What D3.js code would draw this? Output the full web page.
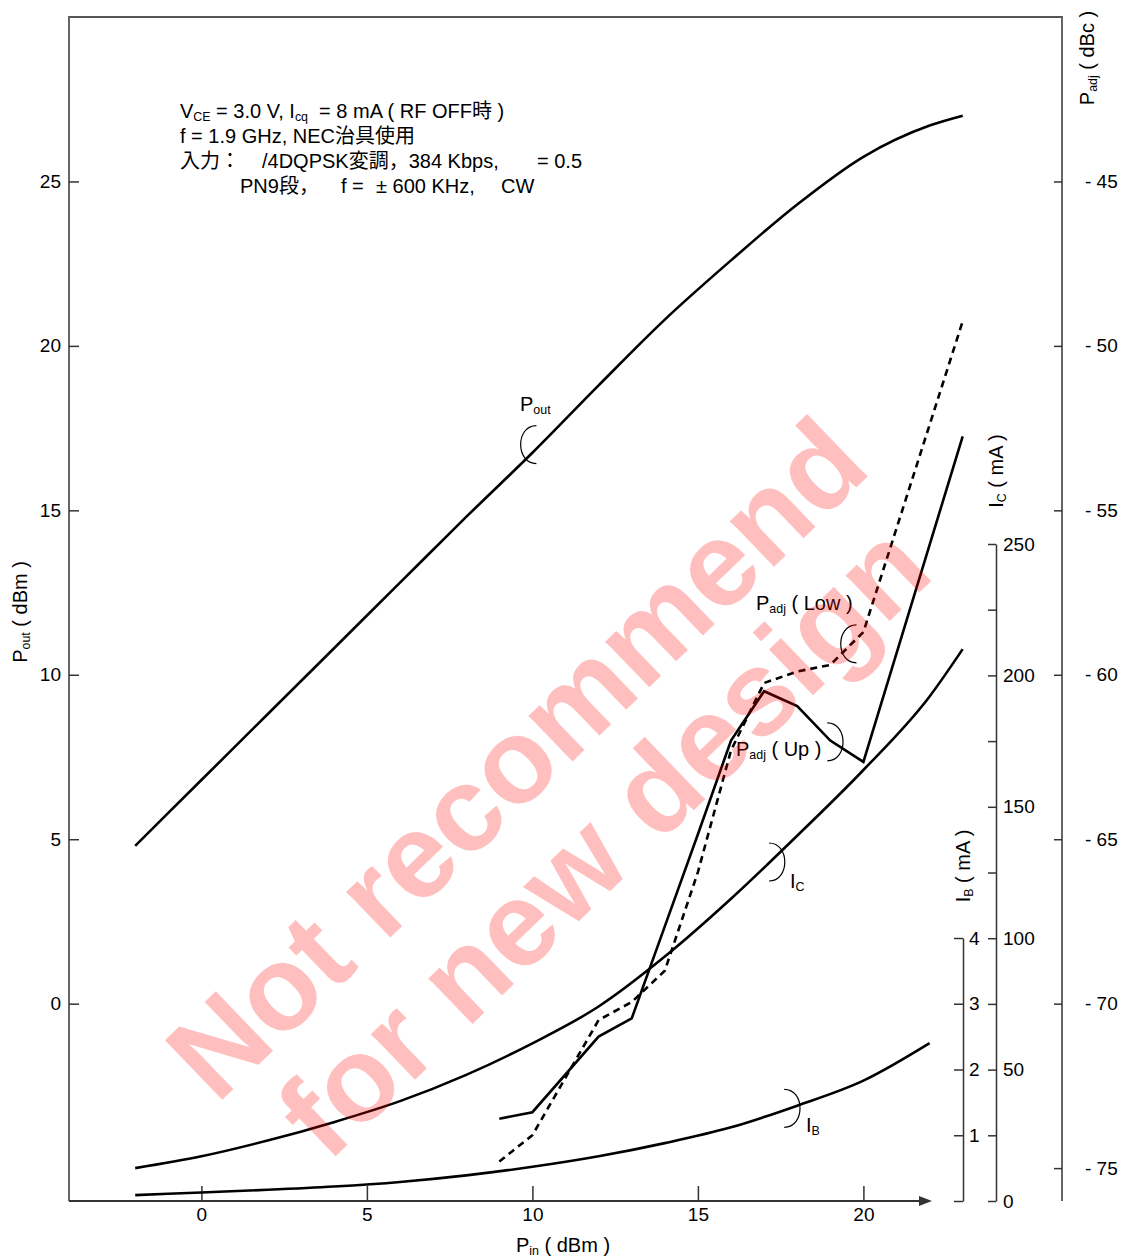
<!DOCTYPE html>
<html>
<head>
<meta charset="utf-8">
<script src="https://cdn.jsdelivr.net/npm/d3@7"></script>
<style>
  body { margin: 0; background: #fff; }
  svg { display: block; font-family: "Liberation Sans", Arial, "Noto Sans CJK JP", sans-serif; }
  .axis text { font-size: 19px; fill: #000; }
  .axis line, .axis path { stroke: #333; stroke-width: 1.5; }
  .curve { fill: none; stroke: #000; stroke-width: 2.6; }
  .loop { fill: none; stroke: #000; stroke-width: 1.2; }
  .note { font-size: 20px; fill: #000; }
</style>
</head>
<body>
<svg id="chart" width="1125" height="1257"></svg>
<script>
// Pin (dBm) sample points for the smooth curves
const pinSmooth = [-2, 0, 2, 4, 6, 8, 10, 12, 14, 16, 18, 20, 22, 23];
const pout = [4.8, 6.8, 8.8, 10.8, 12.8, 14.8, 16.75, 18.8, 20.8, 22.6, 24.3, 25.75, 26.7, 27.0];
const ic = [12.5, 17, 23, 30, 38, 48, 60, 74, 93, 115, 139, 164, 192, 210];

const pinIb = [-2, 0, 2, 4, 6, 8, 10, 12, 14, 16, 18, 20, 22];
const ib = [0.09, 0.13, 0.17, 0.22, 0.29, 0.39, 0.52, 0.68, 0.88, 1.12, 1.45, 1.83, 2.4];

// adjacent channel leakage, measured points
const pinAdj = [9, 10, 12, 13, 14, 15, 16, 17, 18, 19, 20, 23];
const padjUp = [-73.5, -73.3, -71.0, -70.45, -67.65, -64.85, -62.0, -60.5, -60.95, -62.0, -62.65, -52.75];
const padjLow = [-74.8, -74.0, -70.5, -69.95, -69.0, -66.0, -62.3, -60.25, -59.9, -59.7, -58.7, -49.25];

const pinTicks = [0, 5, 10, 15, 20];
const poutTicks = [0, 5, 10, 15, 20, 25];
const padjTicks = [-75, -70, -65, -60, -55, -50, -45];
const icTicks = [0, 25, 50, 75, 100, 125, 150, 175, 200, 225, 250];
const ibTicks = [0, 1, 2, 3, 4];

const svg = d3.select('#chart');

const x = d3.scaleLinear().domain([-4, 26]).range([69, 1062]);
const yPout = d3.scaleLinear().domain([-6, 30]).range([1201, 17]);
const yPadj = d3.scaleLinear().domain([-76, -40]).range([1201, 17]);
const yIc = d3.scaleLinear().domain([0, 250]).range([1201, 544]);
const yIb = d3.scaleLinear().domain([0, 4]).range([1201, 938]);

// text with small subscript parts: strings are normal, {sub} objects are lowered
function rich(text, parts) {
  let lowered = false;
  parts.forEach((p) => {
    const sub = typeof p !== 'string';
    const span = text.append('tspan').text(sub ? p.sub : p);
    if (sub) {
      span.attr('font-size', '0.62em');
      if (!lowered) span.attr('dy', 3);
    } else if (lowered) {
      span.attr('dy', -3);
    }
    lowered = sub;
  });
  return text;
}

// frame
svg.append('path')
  .attr('d', 'M69,1201 V17 H1062 V1201')
  .attr('fill', 'none')
  .attr('stroke', '#555')
  .attr('stroke-width', 1.8);

// axes
svg.append('g')
  .attr('class', 'axis')
  .attr('transform', 'translate(0,1201)')
  .call(d3.axisBottom(x).tickValues(pinTicks).tickSizeInner(-15).tickSizeOuter(0).tickPadding(7))
  .call((g) => g.select('.domain').remove());
svg.append('line')
  .attr('x1', 69).attr('x2', 922).attr('y1', 1201).attr('y2', 1201)
  .attr('stroke', '#333').attr('stroke-width', 1.8);
svg.append('path')
  .attr('d', 'M932,1201 L919,1196 L919,1206 Z')
  .attr('fill', '#333');

svg.append('g')
  .attr('class', 'axis')
  .attr('transform', 'translate(69,0)')
  .call(d3.axisLeft(yPout).tickValues(poutTicks).tickSizeInner(-10).tickSizeOuter(0).tickPadding(8))
  .call((g) => g.select('.domain').remove());

svg.append('g')
  .attr('class', 'axis')
  .attr('transform', 'translate(1062,0)')
  .call(d3.axisRight(yPadj).tickValues(padjTicks).tickSizeInner(-8).tickSizeOuter(0).tickPadding(23)
    .tickFormat((d) => `- ${Math.abs(d)}`))
  .call((g) => g.select('.domain').remove());

svg.append('g')
  .attr('class', 'axis')
  .attr('transform', 'translate(996,0)')
  .call(d3.axisRight(yIc).tickValues(icTicks).tickSizeInner(-8).tickSizeOuter(0).tickPadding(7)
    .tickFormat((d) => (d % 50 === 0 ? d : '')));

svg.append('g')
  .attr('class', 'axis')
  .attr('transform', 'translate(963,0)')
  .call(d3.axisRight(yIb).tickValues(ibTicks).tickSizeInner(-9).tickSizeOuter(0).tickPadding(6)
    .tickFormat((d) => (d === 0 ? '' : d)));

// axis titles
rich(svg.append('text').attr('class', 'note').attr('text-anchor', 'middle')
  .attr('transform', 'translate(27,612) rotate(-90)'), ['P', { sub: 'out' }, ' ( dBm )']);
rich(svg.append('text').attr('class', 'note').attr('text-anchor', 'middle')
  .attr('transform', 'translate(1094,58) rotate(-90)'), ['P', { sub: 'adj' }, ' ( dBc )']);
rich(svg.append('text').attr('class', 'note').attr('text-anchor', 'middle')
  .attr('transform', 'translate(1003,471) rotate(-90)'), ['I', { sub: 'C' }, ' ( mA )']);
rich(svg.append('text').attr('class', 'note').attr('text-anchor', 'middle')
  .attr('transform', 'translate(970,866) rotate(-90)'), ['I', { sub: 'B' }, ' ( mA )']);
rich(svg.append('text').attr('class', 'note').attr('text-anchor', 'middle')
  .attr('x', 563).attr('y', 1252), ['P', { sub: 'in' }, ' ( dBm )']);

// conditions
rich(svg.append('text').attr('class', 'note').attr('x', 180).attr('y', 118),
  ['V', { sub: 'CE' }, ' = 3.0 V, I', { sub: 'cq' }, '\u00a0 = 8 mA ( RF OFF時 )']);
svg.append('text').attr('class', 'note').attr('x', 180).attr('y', 143)
  .text('f = 1.9 GHz, NEC治具使用');
svg.append('text').attr('class', 'note').attr('x', 180).attr('y', 168).text('入力：');
svg.append('text').attr('class', 'note').attr('x', 262).attr('y', 168).text('/4DQPSK変調，384 Kbps,');
svg.append('text').attr('class', 'note').attr('x', 537).attr('y', 168).text('= 0.5');
svg.append('text').attr('class', 'note').attr('x', 240).attr('y', 193).text('PN9段，');
svg.append('text').attr('class', 'note').attr('x', 341).attr('y', 193).text('f =');
svg.append('text').attr('class', 'note').attr('x', 376).attr('y', 193).text('± 600 KHz,');
svg.append('text').attr('class', 'note').attr('x', 501).attr('y', 193).text('CW');

// curves
const smooth = (ys, yScale, xs) => d3.line()
  .x((d, i) => x(xs[i]))
  .y((d) => yScale(d))
  .curve(d3.curveMonotoneX)(ys);
const straight = (ys, yScale, xs) => d3.line()
  .x((d, i) => x(xs[i]))
  .y((d) => yScale(d))(ys);

svg.append('path').attr('class', 'curve').attr('d', smooth(pout, yPout, pinSmooth));
svg.append('path').attr('class', 'curve').attr('d', smooth(ic, yIc, pinSmooth));
svg.append('path').attr('class', 'curve').attr('d', smooth(ib, yIb, pinIb));
svg.append('path').attr('class', 'curve').attr('d', straight(padjUp, yPadj, pinAdj));
svg.append('path').attr('class', 'curve')
  .attr('stroke-dasharray', '7,5')
  .attr('d', straight(padjLow, yPadj, pinAdj));

// curve markers: small bracket loops that cross each curve
const loops = [
  { pin: 9.97, v: yPout(17.0), dir: -1 },
  { pin: 19.64, v: yPadj(-59.06), dir: -1 },
  { pin: 19.06, v: yPadj(-62.04), dir: 1 },
  { pin: 17.3, v: yIc(129), dir: 1 },
  { pin: 17.76, v: yIb(1.41), dir: 1 },
];
svg.selectAll('path.loop')
  .data(loops)
  .join('path')
  .attr('class', 'loop')
  .attr('d', (d) => {
    const cx = x(d.pin);
    const cy = d.v;
    const k = d.dir;
    return `M${cx - 5 * k},${cy - 19} C${cx + 16 * k},${cy - 19} ${cx + 16 * k},${cy + 19} ${cx - 5 * k},${cy + 19}`;
  });

rich(svg.append('text').attr('class', 'note').attr('x', 520).attr('y', 411), ['P', { sub: 'out' }]);
rich(svg.append('text').attr('class', 'note').attr('x', 756).attr('y', 610), ['P', { sub: 'adj' }, ' ( Low )']);
rich(svg.append('text').attr('class', 'note').attr('x', 736).attr('y', 756), ['P', { sub: 'adj' }, ' ( Up )']);
rich(svg.append('text').attr('class', 'note').attr('x', 790).attr('y', 888), ['I', { sub: 'C' }]);
rich(svg.append('text').attr('class', 'note').attr('x', 806).attr('y', 1132), ['I', { sub: 'B' }]);

// watermark
const mark = svg.append('g')
  .attr('fill', 'rgb(255,0,0)')
  .attr('fill-opacity', 0.25)
  .attr('font-weight', 'bold')
  .attr('font-size', 120)
  .attr('text-anchor', 'middle');
mark.append('text').attr('transform', 'translate(545,788) rotate(-44)').text('Not recommend');
mark.append('text').attr('transform', 'translate(632,870) rotate(-44)').text('for new design');
</script>
</body>
</html>
